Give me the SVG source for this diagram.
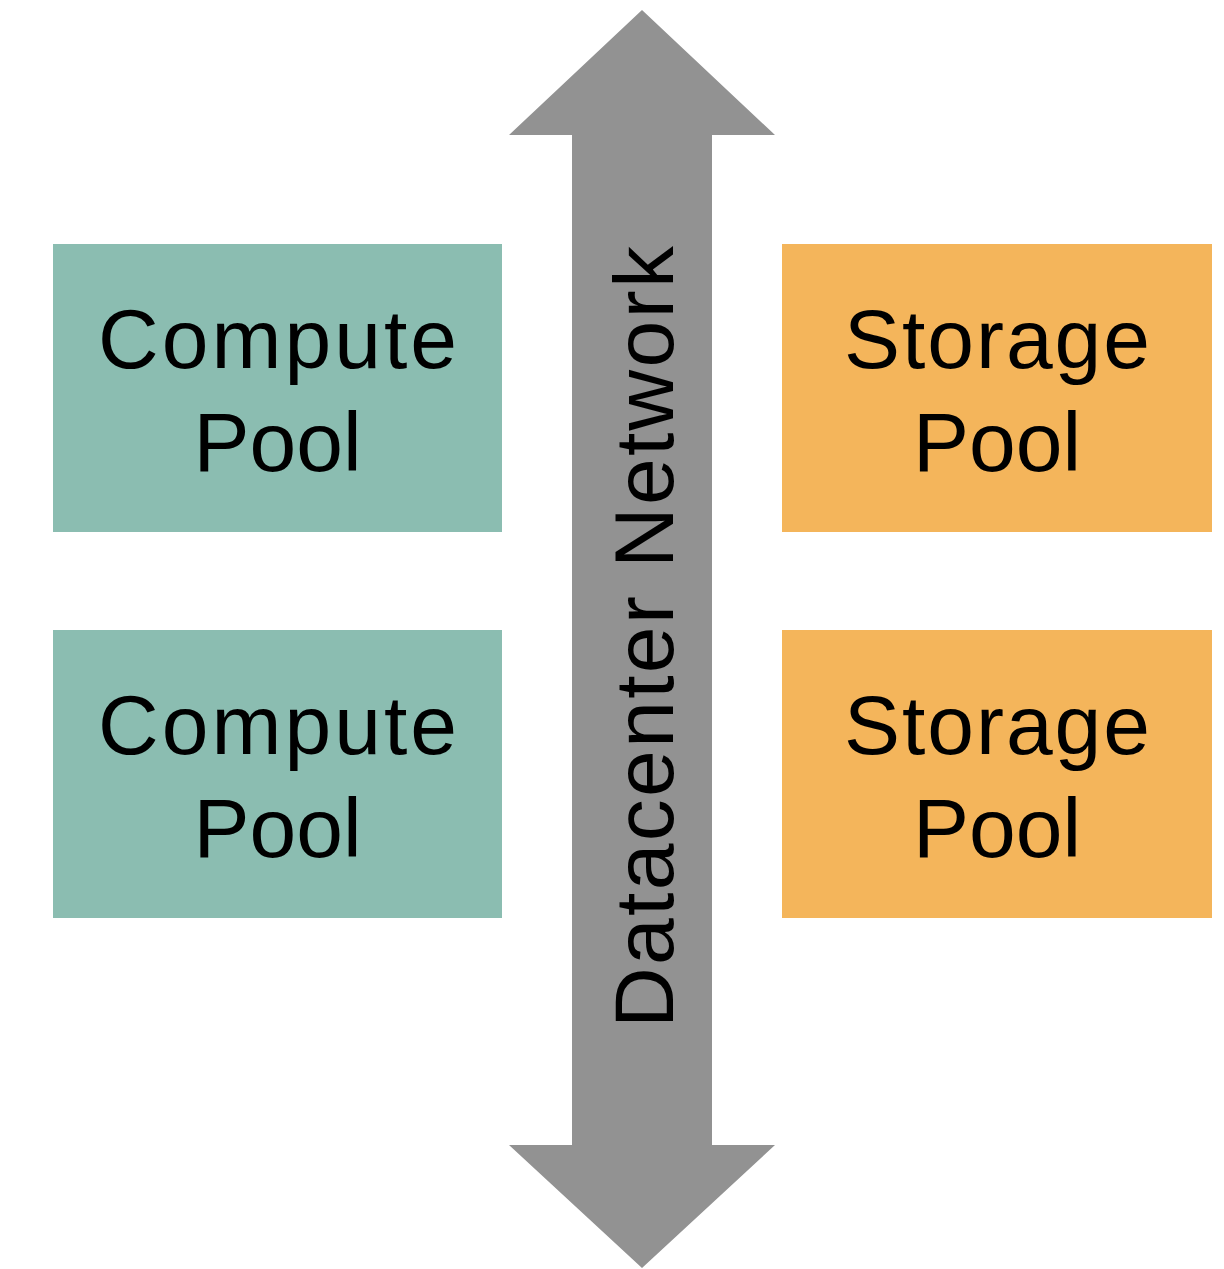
<svg xmlns="http://www.w3.org/2000/svg" width="1224" height="1269" viewBox="0 0 1224 1269">
  <style>
    .lbl { font-family: "Liberation Sans", Arial, Helvetica, sans-serif; font-size: 84px; fill: #000; text-anchor: middle; }
    .compute { fill: #8BBDB1; }
    .storage { fill: #F4B55B; }
    .net { fill: #929292; }
  </style>
  <rect width="1224" height="1269" fill="#ffffff"/>

  <!-- datacenter network: double-headed vertical arrow -->
  <g id="connectors">
    <g id="network">
      <polygon class="net" points="642,10 775,135 712,135 712,1145 775,1145 642,1268 509,1145 572,1145 572,135 509,135"/>
      <text class="lbl" transform="translate(673,637) rotate(-90)" x="0" y="0" textLength="782" lengthAdjust="spacing">Datacenter Network</text>
    </g>
  </g>

  <g id="compute-pool-1">
    <rect class="compute" x="53" y="244" width="449" height="288"/>
    <text class="lbl" x="277.5" y="368" textLength="359" lengthAdjust="spacing">Compute</text>
    <text class="lbl" x="277.5" y="471">Pool</text>
  </g>

  <g id="compute-pool-2">
    <rect class="compute" x="53" y="630" width="449" height="288"/>
    <text class="lbl" x="277.5" y="754" textLength="359" lengthAdjust="spacing">Compute</text>
    <text class="lbl" x="277.5" y="857">Pool</text>
  </g>

  <g id="storage-pool-1">
    <rect class="storage" x="782" y="244" width="430" height="288"/>
    <text class="lbl" x="997" y="368" textLength="306" lengthAdjust="spacing">Storage</text>
    <text class="lbl" x="997" y="471">Pool</text>
  </g>

  <g id="storage-pool-2">
    <rect class="storage" x="782" y="630" width="430" height="288"/>
    <text class="lbl" x="997" y="754" textLength="306" lengthAdjust="spacing">Storage</text>
    <text class="lbl" x="997" y="857">Pool</text>
  </g>
</svg>
